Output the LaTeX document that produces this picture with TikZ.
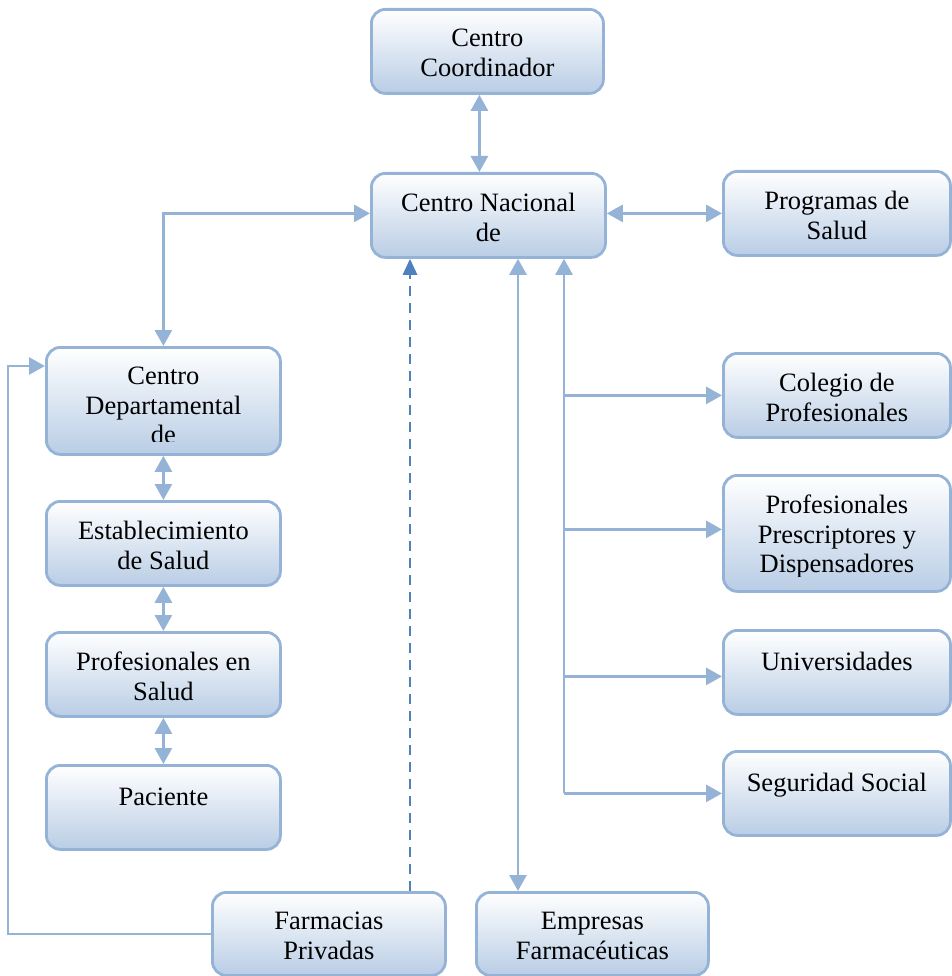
\documentclass[tikz,border=0pt]{standalone}
\usepackage{fontspec}
\setmainfont{Liberation Serif}
\usetikzlibrary{arrows.meta}
\definecolor{linea}{HTML}{95B3D7}
\definecolor{oscuro}{HTML}{4F81BD}
\definecolor{fondo}{HTML}{B9CDE5}
\begin{document}
\begin{tikzpicture}[x=1pt, y=-1pt]
      \fontsize{26.5}{29.5}\selectfont
      \tikzstyle{caja}=[draw=linea, line width=2.8pt, rounded corners=14pt, top color=white, bottom color=fondo, anchor=north west, inner sep=0pt]
      \tikzstyle{texto}=[anchor=north, align=center, inner sep=0pt, execute at begin node=\strut]
      \tikzstyle{flecha}=[draw=linea, line width=2.8pt, -{Triangle[length=16pt, width=17pt]}]
      \tikzstyle{doble}=[draw=linea, line width=2.8pt, {Triangle[length=16pt, width=17pt]}-{Triangle[length=16pt, width=17pt]}]
      \useasboundingbox (0,0) rectangle (951,976);

      \node[caja, minimum width=232pt, minimum height=84pt]  (coord)     at (370, 8)   {};
      \node[caja, minimum width=234pt, minimum height=84pt]  (nacional)  at (370, 172) {};
      \node[caja, minimum width=227pt, minimum height=84pt]  (programas) at (722, 170) {};
      \node[caja, minimum width=234pt, minimum height=107pt] (depto)     at (45, 346)  {};
      \node[caja, minimum width=234pt, minimum height=84pt]  (estab)     at (45, 500)  {};
      \node[caja, minimum width=234pt, minimum height=84pt]  (profsalud) at (45, 631)  {};
      \node[caja, minimum width=234pt, minimum height=84pt]  (paciente)  at (45, 764)  {};
      \node[caja, minimum width=227pt, minimum height=84pt]  (colegio)   at (722, 352) {};
      \node[caja, minimum width=227pt, minimum height=116pt] (prescrip)  at (722, 474) {};
      \node[caja, minimum width=227pt, minimum height=84pt]  (univ)      at (722, 629) {};
      \node[caja, minimum width=227pt, minimum height=84pt]  (segsoc)    at (722, 750) {};
      \node[caja, minimum width=233pt, minimum height=83pt]  (farmacias) at (211, 891) {};
      \node[caja, minimum width=232pt, minimum height=83pt]  (empresas)  at (475, 891) {};

      % textos de las cajas
      \node[texto] (tcoord)     at ([yshift=-21pt]coord.north)     {Centro\\Coordinador};
      \node[texto] (tnacional)  at ([yshift=-21pt]nacional.north)  {Centro Nacional\\de};
      \node[texto] (tprogramas) at ([yshift=-21pt]programas.north) {Programas de\\Salud};
      \node[texto] (testab)     at ([yshift=-21pt]estab.north)     {Establecimiento\\de Salud};
      \node[texto] (tprofsalud) at ([yshift=-21pt]profsalud.north) {Profesionales en\\Salud};
      \node[texto] (tpaciente)  at ([yshift=-21pt]paciente.north)  {Paciente};
      \node[texto] (tcolegio)   at ([yshift=-21pt]colegio.north)   {Colegio de\\Profesionales};
      \node[texto] (tuniv)      at ([yshift=-21pt]univ.north)      {Universidades};
      \node[texto] (tsegsoc)    at ([yshift=-21pt]segsoc.north)    {Seguridad Social};
      \node[texto] (tfarmacias) at ([yshift=-21pt]farmacias.north) {Farmacias\\Privadas};
      \node[texto] (tempresas)  at ([yshift=-21pt]empresas.north)  {Empresas\\Farmacéuticas};
      \begin{scope}
        \clip (depto.north west) rectangle ([yshift=14pt]depto.south east);
        \node[texto] (tdepto) at ([yshift=-21pt]depto.north) {Centro\\Departamental\\de};
      \end{scope}
      \begin{scope}
        \clip (prescrip.north west) rectangle ([yshift=16pt]prescrip.south east);
        \node[texto] (tprescrip) at ([yshift=-21pt]prescrip.north) {Profesionales\\Prescriptores y\\Dispensadores};
      \end{scope}

      \coordinate (xdash) at (410, 0);
      \coordinate (xemp)  at (518, 0);
      \coordinate (xbus)  at (564, 0);
      \coordinate (esq)   at (8, 366);

      \draw[doble] ([xshift=-8pt]coord.south) to ([xshift=-8pt]coord.south |- nacional.north);
      \draw[doble] ([yshift=2pt]nacional.east) to ([yshift=2pt]programas.west |- nacional.east);
      \draw[doble] ([yshift=2pt]nacional.west) -| (depto.north);
      \draw[doble] (depto.south) to (estab.north);
      \draw[doble] (estab.south) to (profsalud.north);
      \draw[doble] (profsalud.south) to (paciente.north);
      \draw[flecha] (farmacias.west) -| (esq) to (depto.west |- esq);
      \draw[flecha, draw=oscuro, dash pattern=on 10pt off 7pt, -{Triangle[length=16pt, width=14pt, fill=oscuro]}] (farmacias.north -| xdash) to (nacional.south -| xdash);
      \draw[doble] (empresas.north -| xemp) to (nacional.south -| xemp);
      \draw[flecha] (segsoc.west -| xbus) to (nacional.south -| xbus);
      \draw[flecha] (colegio.west -| xbus) to (colegio.west);
      \draw[flecha] ([yshift=4pt]prescrip.west -| xbus) to ([yshift=4pt]prescrip.west);
      \draw[flecha] ([yshift=-4pt]univ.west -| xbus) to ([yshift=-4pt]univ.west);
      \draw[flecha] (segsoc.west -| xbus) to (segsoc.west);
    \end{tikzpicture}
\end{document}
